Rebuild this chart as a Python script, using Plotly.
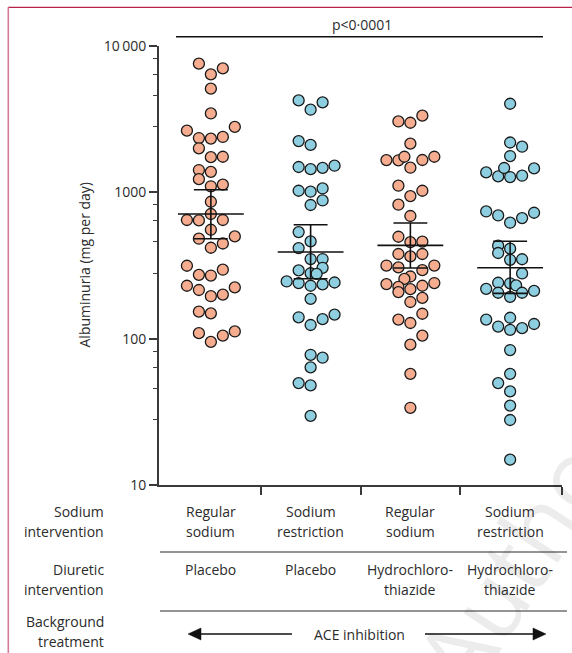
import plotly.graph_objects as go

# ---------------- data ----------------
sodium_labels = [["Regular", "sodium"], ["Sodium", "restriction"],
                 ["Regular", "sodium"], ["Sodium", "restriction"]]
diuretic_labels = [["Placebo"], ["Placebo"],
                   ["Hydrochloro-", "thiazide"], ["Hydrochloro-", "thiazide"]]
row_labels = [["Sodium", "intervention"], ["Diuretic", "intervention"],
              ["Background", "treatment"]]
background_label = "ACE inhibition"
p_label = "p<0·0001"
y_title = "Albuminuria (mg per day)"
y_tickvals = [10, 100, 1000, 10000]
y_ticktext = ["10", "100", "1000", "10\u2009000"]
watermark = "Author"

# group 1: regular sodium + placebo
g1_values = [7570, 7030, 6400, 5110, 3460, 2640, 2800, 2350, 2330, 2390, 2000, 1740,
             1750, 1420, 1380, 1230, 1100, 1130, 862, 711, 647, 643, 647, 555, 482,
             418, 447, 500, 315, 273, 270, 296, 230, 215, 195, 200, 224, 153, 149,
             109, 95, 105, 112]
g1_lanes = [-1, 1, 0, 0, 0, -2, 2, -1, 0, 1, -1, 0, 1, -1, 0, -1, 0, 1, 0, 0, -2, -1, 1,
            0, -1, 0, 1, 2, -2, -1, 0, 1, -2, -1, 0, 1, 2, -1, 0, -1, 0, 1, 2]
# group 2: sodium restriction + placebo
g2_values = [4250, 3670, 4120, 2240, 2110, 1490, 1440, 1470, 1520, 1025, 1010, 1063,
             819, 880, 535, 462, 416, 350, 350, 293, 305, 280, 277, 246, 240, 230, 235,
             242, 187, 140, 124, 136, 146, 77.6, 74.1, 63.7, 49.7, 47.9, 29.7]
g2_lanes = [-1, 0, 1, -1, 0, -1, 0, 1, 2, -1, 0, 1, 0, 1, -1, 0, -1, 0, 1, -1, 1, 0, 0.5,
            -2, -1, 0, 1, 2, 0, -1, 0, 1, 2, 0, 1, 0, -1, 0, 0]
# group 3: regular sodium + hydrochlorothiazide
g3_values = [3050, 2990, 3340, 2150, 1660, 1656, 1750, 1663, 1751, 1473, 1110, 943,
             1025, 823, 689, 497, 457, 460, 379, 365, 379, 316, 307, 294, 316, 266,
             256, 236, 226, 208, 218, 230, 240, 178, 190, 135, 128, 148, 105, 91,
             57.5, 33.7]
g3_lanes = [-1, 0, 1, 0, -2, -1, -0.5, 1, 2, 0, -1, 0, 1, -1, 0, -1, 0, 1, -1, 0, 1, -2,
            -1, 1, 2, 0, -0.5, -2, -1, -1, 0, 1, 2, 0, 1, -1, 0, 1, 1, 0, 0, 0]
# group 4: sodium restriction + hydrochlorothiazide
g4_values = [4030, 2190, 2050, 1770, 1368, 1285, 1466, 1272, 1299, 1457, 740, 695, 620,
             667, 725, 432, 385, 412, 346, 349, 279, 241, 239, 231, 219, 206, 193, 206,
             212, 135, 121, 139, 115, 118, 126, 83.6, 57.5, 49.7, 43.6, 34.9, 27.8, 14.9]
g4_lanes = [0, 0, 1, 0, -2, -1, -0.5, 0, 1, 2, -2, -1, 0, 1, 2, -1, -1, 0, 0, 1, 1, -1, 0,
            0.5, -2, -1, 0, 1, 2, -2, -1, 0, 0, 1, 2, 0, 0, -1, 0, 0, 0, 0]

group_values = [g1_values, g2_values, g3_values, g4_values]
group_lanes = [g1_lanes, g2_lanes, g3_lanes, g4_lanes]
means = [711, 391, 434, 305]
ci_low = [482, 257, 304, 204]
ci_high = [1042, 600, 617, 463]

# ---------------- style ----------------
W, H = 572, 653
ML, MR, MT, MB = 159, 10, 46, 168
PW = W - ML - MR
PH = H - MT - MB
FONT = "Open Sans"
TXT = "#2b2b2b"
ORANGE = "#F5AC8F"
BLUE = "#8DCFE0"
colors = [ORANGE, BLUE, ORANGE, BLUE]
LANE = 0.12
MEAN_HALF = 0.33
CAP_HALF = 0.17


def xp(px):
    return (px - ML) / PW


def yp(py):
    return (H - MB - py) / PH


fig = go.Figure()

for i, (vals, lanes) in enumerate(zip(group_values, group_lanes)):
    fig.add_trace(go.Scatter(
        x=[i + LANE * l for l in lanes], y=vals, mode="markers",
        marker=dict(size=11, color=colors[i], line=dict(color="#1a1a1a", width=1.3)),
        showlegend=False, hoverinfo="y"))

ex, ey = [], []
for i in range(4):
    ex += [i - MEAN_HALF, i + MEAN_HALF, None,
           i - CAP_HALF, i + CAP_HALF, None,
           i - CAP_HALF, i + CAP_HALF, None,
           i, i, None]
    ey += [means[i], means[i], None,
           ci_high[i], ci_high[i], None,
           ci_low[i], ci_low[i], None,
           ci_low[i], ci_high[i], None]
fig.add_trace(go.Scatter(x=ex, y=ey, mode="lines",
                         line=dict(color="#111111", width=1.6),
                         showlegend=False, hoverinfo="skip"))

minor_vals = []
for dec in [10, 100, 1000]:
    minor_vals += [dec * m for m in (2.8, 4.6, 6.4, 8.2)]

fig.update_layout(
    width=W, height=H,
    margin=dict(l=ML, r=MR, t=MT, b=MB),
    paper_bgcolor="white", plot_bgcolor="rgba(0,0,0,0)",
    font=dict(family=FONT, size=14, color=TXT),
    xaxis=dict(range=[-0.52, 3.52], showgrid=False, zeroline=False,
               showline=True, linecolor="#3a3a3a", linewidth=2,
               tickmode="array", tickvals=[0.5, 1.5, 2.5, 3.52], ticktext=["", "", "", ""],
               ticks="outside", ticklen=8, tickwidth=1.5, tickcolor="#3a3a3a"),
    yaxis=dict(type="log", range=[1, 4], showgrid=False, zeroline=False,
               showline=True, linecolor="#3a3a3a", linewidth=2,
               tickmode="array", tickvals=y_tickvals, ticktext=y_ticktext,
               ticks="outside", ticklen=8, tickwidth=1.5, tickcolor="#3a3a3a",
               tickfont=dict(size=14, color=TXT),
               minor=dict(tickmode="array", tickvals=minor_vals, ticks="outside",
                          ticklen=4, tickwidth=1.2, tickcolor="#3a3a3a", showgrid=False)),
)

ann = []
shapes = []

# faint diagonal watermark (bottom right, partly off-page as in the reference)
ann.append(dict(x=xp(522), y=yp(548), xref="paper", yref="paper", text=watermark,
                textangle=-57, showarrow=False,
                font=dict(size=96, color="rgba(0,0,0,0.075)", family="Open Sans"),
                xanchor="center", yanchor="middle"))

# y-axis title
ann.append(dict(x=xp(84), y=0.5, xref="paper", yref="paper", text=y_title,
                textangle=-90, showarrow=False, font=dict(size=14, color=TXT),
                xanchor="center", yanchor="middle"))

# p-value bracket
shapes.append(dict(type="line", xref="paper", yref="paper", x0=xp(176), x1=xp(543),
                   y0=yp(36.7), y1=yp(36.7), line=dict(color="#111111", width=1.5)))
ann.append(dict(x=xp(362), y=yp(24), xref="paper", yref="paper", text=p_label,
                showarrow=False, font=dict(size=14, color=TXT),
                xanchor="center", yanchor="middle"))

# row labels
row_y = [(511, 531), (569, 589), (621, 641)]
for lines, ys in zip(row_labels, row_y):
    for t, yy in zip(lines, ys):
        ann.append(dict(x=xp(106), y=yp(yy), xref="paper", yref="paper", text=t,
                        showarrow=False, xanchor="right", yanchor="middle",
                        font=dict(size=14, color=TXT)))

# category labels
for i in range(4):
    for t, yy in zip(sodium_labels[i], (511, 531)):
        ann.append(dict(x=i, y=yp(yy), xref="x", yref="paper", text=t, showarrow=False,
                        xanchor="center", yanchor="middle", font=dict(size=14, color=TXT)))
    for t, yy in zip(diuretic_labels[i], (569, 589)):
        ann.append(dict(x=i, y=yp(yy), xref="x", yref="paper", text=t, showarrow=False,
                        xanchor="center", yanchor="middle", font=dict(size=14, color=TXT)))

# separators
for yy in (552, 611):
    shapes.append(dict(type="line", xref="paper", yref="paper", x0=xp(160), x1=xp(567),
                       y0=yp(yy), y1=yp(yy), line=dict(color="#2b2b2b", width=1.2)))

# ACE inhibition arrow
ya = 634
ann.append(dict(x=xp(359), y=yp(ya), xref="paper", yref="paper", text=background_label,
                showarrow=False, xanchor="center", yanchor="middle",
                font=dict(size=14, color=TXT)))
shapes.append(dict(type="line", xref="paper", yref="paper", x0=xp(198), x1=xp(292),
                   y0=yp(ya), y1=yp(ya), line=dict(color="#111111", width=1.5)))
shapes.append(dict(type="line", xref="paper", yref="paper", x0=xp(425), x1=xp(536),
                   y0=yp(ya), y1=yp(ya), line=dict(color="#111111", width=1.5)))
for tip, back in ((188, 201), (546, 533)):
    shapes.append(dict(type="path", xref="paper", yref="paper",
                       path=f"M {xp(tip)},{yp(ya)} L {xp(back)},{yp(ya - 6)} L {xp(back)},{yp(ya + 6)} Z",
                       fillcolor="#111111", line=dict(color="#111111", width=0.5)))

# frame lines (top and left)
shapes.append(dict(type="line", xref="paper", yref="paper", x0=xp(8), x1=xp(572),
                   y0=yp(7.3), y1=yp(7.3), line=dict(color="#b8224a", width=1.3)))
shapes.append(dict(type="line", xref="paper", yref="paper", x0=xp(8.3), x1=xp(8.3),
                   y0=yp(7.3), y1=yp(653), line=dict(color="#d67a95", width=1.6)))

fig.update_layout(annotations=ann, shapes=shapes)
fig.write_html("out.html", config={"displayModeBar": False},
               post_script="document.body.style.margin='0';document.body.style.overflow='hidden';")
